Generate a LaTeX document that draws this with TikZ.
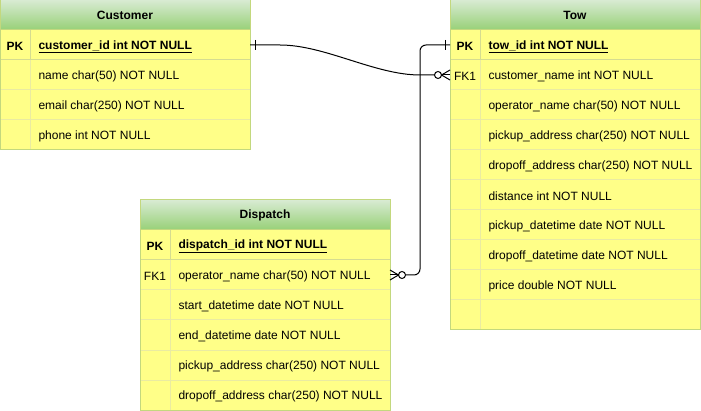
\documentclass[tikz,border=0pt]{standalone}
\usepackage{fontspec}
\setmainfont{Liberation Sans}
\usetikzlibrary{positioning}

\definecolor{hdrtop}{HTML}{D8EBD2}
\definecolor{hdrbot}{HTML}{97D077}
\definecolor{tblfill}{HTML}{FFFF88}
\definecolor{tblline}{HTML}{C3D87E}
\definecolor{pkline}{HTML}{D5DC90}
\definecolor{rowline}{HTML}{EAEBA2}

\tikzset{
  hdr/.style={draw=tblline, top color=hdrtop, bottom color=hdrbot, minimum width=250pt,
    minimum height=30pt, anchor=north west, inner sep=0pt, outer sep=0pt, font=\fontsize{12}{14}\selectfont\bfseries},
  tblrow/.style={minimum width=250pt, minimum height=30pt, anchor=north west, inner sep=0pt, outer sep=0pt},
  keytxt/.style={anchor=center, inner sep=0pt},
  fieldtxt/.style={anchor=west, inner sep=0pt},
  boldtxt/.style={font=\fontsize{12}{14}\selectfont\bfseries},
}

\begin{document}
\begin{tikzpicture}[x=1pt,y=-1pt,line width=1pt,font=\fontsize{12}{14}\selectfont]
\useasboundingbox (0,0) rectangle (701,411);

% Customer
\fill[tblfill] (0,30) rectangle (250,150);
\draw[color=rowline] (0,90) -- (250,90);
\draw[color=rowline] (0,120) -- (250,120);
\draw[color=rowline] (30,60) -- (30,150);
\draw[color=pkline] (30,30) -- (30,60);
\draw[color=pkline] (0,60) -- (250,60);
\draw[color=tblline] (0,30) rectangle (250,150);
\node[hdr] (cust) at (0,0) {Customer};
\node[tblrow] (custpk) at (0,30) {};
\node[keytxt,boldtxt] (custpkkey) at (15,46.5) {PK};
\node[fieldtxt,boldtxt] (custid) at (38,46.5) {\underline{customer\_id int NOT NULL}};
\node[fieldtxt] (custname) at (38,76.5) {name char(50) NOT NULL};
\node[fieldtxt] (custemail) at (38,106.5) {email char(250) NOT NULL};
\node[fieldtxt] (custphone) at (38,136.5) {phone int NOT NULL};

% Tow
\fill[tblfill] (450,30) rectangle (700,330);
\draw[color=rowline] (450,90) -- (700,90);
\draw[color=rowline] (450,120) -- (700,120);
\draw[color=rowline] (450,150) -- (700,150);
\draw[color=rowline] (450,180) -- (700,180);
\draw[color=rowline] (450,210) -- (700,210);
\draw[color=rowline] (450,240) -- (700,240);
\draw[color=rowline] (450,270) -- (700,270);
\draw[color=rowline] (450,300) -- (700,300);
\draw[color=rowline] (480,60) -- (480,330);
\draw[color=pkline] (480,30) -- (480,60);
\draw[color=pkline] (450,60) -- (700,60);
\draw[color=tblline] (450,30) rectangle (700,330);
\node[hdr] (tow) at (450,0) {Tow};
\node[tblrow] (towpk) at (450,30) {};
\node[tblrow] (towfk) at (450,60) {};
\node[keytxt,boldtxt] (towpkkey) at (465,46.5) {PK};
\node[keytxt] (towfkkey) at (465,76.5) {FK1};
\node[fieldtxt,boldtxt] (towid) at (488,46.5) {\underline{tow\_id int NOT NULL}};
\node[fieldtxt] (towcust) at (488,76.5) {customer\_name int NOT NULL};
\node[fieldtxt] (towoper) at (488,106.5) {operator\_name char(50) NOT NULL};
\node[fieldtxt] (towpick) at (488,136.5) {pickup\_address char(250) NOT NULL};
\node[fieldtxt] (towdrop) at (488,166.5) {dropoff\_address char(250) NOT NULL};
\node[fieldtxt] (towdist) at (488,196.5) {distance int NOT NULL};
\node[fieldtxt] (towpickdt) at (488,226.5) {pickup\_datetime date NOT NULL};
\node[fieldtxt] (towdropdt) at (488,256.5) {dropoff\_datetime date NOT NULL};
\node[fieldtxt] (towprice) at (488,286.5) {price double NOT NULL};

% Dispatch
\fill[tblfill] (140,230) rectangle (390,410);
\draw[color=rowline] (140,290) -- (390,290);
\draw[color=rowline] (140,320) -- (390,320);
\draw[color=rowline] (140,350) -- (390,350);
\draw[color=rowline] (140,380) -- (390,380);
\draw[color=rowline] (170,260) -- (170,410);
\draw[color=pkline] (170,230) -- (170,260);
\draw[color=pkline] (140,260) -- (390,260);
\draw[color=tblline] (140,230) rectangle (390,410);
\node[hdr] (disp) at (140,200) {Dispatch};
\node[tblrow] (disppk) at (140,230) {};
\node[tblrow] (dispfk) at (140,260) {};
\node[keytxt,boldtxt] (disppkkey) at (155,246.5) {PK};
\node[keytxt] (dispfkkey) at (155,276.5) {FK1};
\node[fieldtxt,boldtxt] (dispid) at (178,246.5) {\underline{dispatch\_id int NOT NULL}};
\node[fieldtxt] (dispoper) at (178,276.5) {operator\_name char(50) NOT NULL};
\node[fieldtxt] (dispstart) at (178,306.5) {start\_datetime date NOT NULL};
\node[fieldtxt] (dispend) at (178,336.5) {end\_datetime date NOT NULL};
\node[fieldtxt] (disppick) at (178,366.5) {pickup\_address char(250) NOT NULL};
\node[fieldtxt] (dispdrop) at (178,396.5) {dropoff\_address char(250) NOT NULL};

% Customer -> Tow
\draw (custpk.east) -- ++(30,0) .. controls +(45,0) and +(-45,0) .. ++(140,30) -- ++(14.5,0);
\draw (custpk.east) ++(5,-5) -- ++(0,10);
\draw (towfk.west) ++(-12,0) circle (3.5);
\draw (towfk.west) ++(0,-5) -- ++(-8.5,5) -- ++(8.5,5);
\draw (towfk.west) -- ++(-8.5,0);

% Dispatch -> Tow
\draw[rounded corners=6pt] (dispfk.east) ++(15.5,0) -- ++(14.5,0) |- (towpk.west);
\draw (towpk.west) ++(-5,-5) -- ++(0,10);
\draw (dispfk.east) ++(12,0) circle (3.5);
\draw (dispfk.east) ++(0,-5) -- ++(8.5,5) -- ++(-8.5,5);
\draw (dispfk.east) -- ++(8.5,0);

\end{tikzpicture}
\end{document}
